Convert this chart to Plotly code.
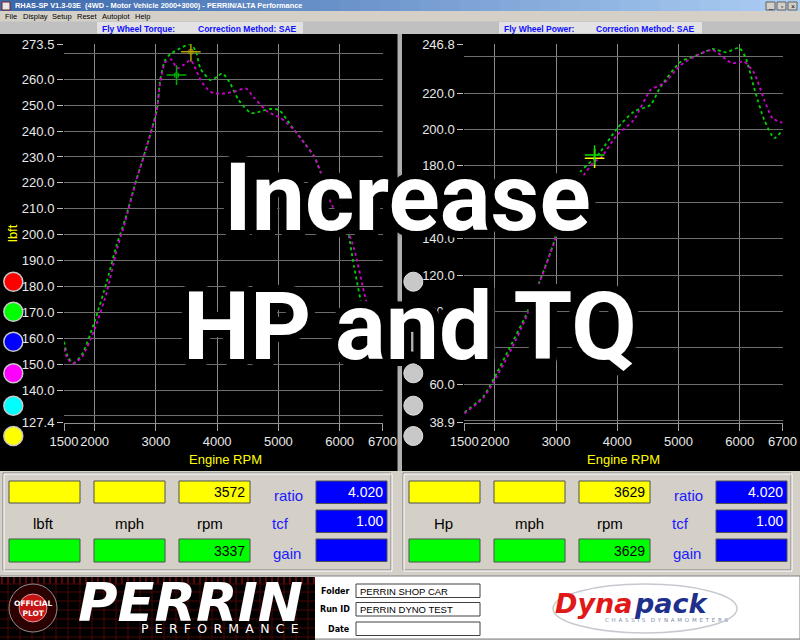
import math
import plotly.graph_objects as go

# ---------------- data ----------------
tq_rpm_green = [1500, 1560, 1650, 1800, 2000, 2200, 2360, 2500, 2664, 2800, 2900, 3016, 3070, 3150, 3240,
                3400, 3560, 3650, 3730, 3893, 4000, 4085, 4200, 4350, 4550, 4700, 4850, 5013, 5150, 5260,
                5420, 5587, 5697, 5800, 5992, 6102, 6238, 6402, 6566, 6700]
tq_green = [158.7, 153.0, 150.3, 154.0, 166.5, 182.0, 196.0, 206.0, 219.8, 230.1, 238.0, 248.1, 259.7, 267.4, 269.8,
            272.0, 273.5, 271.0, 264.0, 259.7, 261.0, 262.3, 259.0, 252.0, 247.0, 247.5, 248.5, 248.1, 244.0, 240.4,
            235.5, 230.1, 223.7, 220.0, 214.6, 205.9, 187.4, 168.3, 156.1, 156.5]

tq_rpm_magenta = [1500, 1560, 1650, 1800, 2000, 2200, 2360, 2500, 2664, 2800, 2900, 3016, 3070, 3150, 3250,
                  3347, 3450, 3565, 3650, 3730, 3850, 3948, 4100, 4275, 4467, 4600, 4823, 5041, 5260, 5420,
                  5587, 5697, 5874, 6074, 6238, 6402, 6539, 6700]
tq_magenta = [156.2, 152.0, 150.3, 153.0, 163.5, 178.0, 194.0, 205.0, 219.8, 230.1, 238.0, 248.1, 258.5, 266.5, 267.7,
              264.2, 265.5, 267.4, 264.0, 259.7, 256.0, 254.6, 254.5, 255.2, 256.5, 253.0, 247.5, 245.0, 240.4, 235.5,
              230.1, 223.7, 211.4, 205.1, 194.4, 177.4, 165.5, 159.6]

hp_rpm_green = [1500, 1811, 2000, 2249, 2495, 2741, 2959, 3100, 3250, 3397, 3629, 3725, 3998, 4270, 4544,
                4708, 5036, 5310, 5556, 5774, 5992, 6102, 6238, 6402, 6566, 6700]
hp_green = [44.6, 53.2, 64.2, 80.6, 97.1, 117.3, 137.5, 155.0, 168.0, 176.8, 184.2, 187.8, 200.6, 209.8, 213.5,
            223.5, 237.2, 240.9, 244.2, 242.4, 244.9, 239.1, 222.6, 205.2, 195.2, 199.7]

hp_rpm_magenta = [1500, 1811, 2000, 2249, 2495, 2741, 2959, 3100, 3250, 3451, 3629, 3725, 3998, 4270, 4544,
                  4762, 5036, 5310, 5556, 5874, 6074, 6238, 6402, 6539, 6700]
hp_magenta = [44.0, 52.5, 62.5, 78.0, 95.5, 117.0, 137.0, 152.5, 165.5, 175.0, 182.5, 184.2, 197.0, 205.2, 221.7,
              225.4, 235.4, 240.9, 243.7, 236.4, 237.2, 230.9, 216.2, 206.1, 203.7]

rpm_ticks = [1500, 2000, 3000, 4000, 5000, 6000, 6700]
rpm_grid = [2000, 3000, 4000, 5000, 6000, 6700]
tq_ticks = [127.4, 140, 150, 160, 170, 180, 190, 200, 210, 220, 230, 240, 250, 260, 273.5]
tq_grid = [130, 140, 150, 160, 170, 180, 190, 200, 210, 220, 230, 240, 250, 260, 270]
hp_ticks = [38.9, 60, 80, 100, 120, 140, 160, 180, 200, 220, 246.8]
hp_grid = [40, 60, 80, 100, 120, 140, 160, 180, 200, 220, 240]

tq_cursor_rpm = [3572, 3337]
tq_cursor_val = [270.6, 261.6]
tq_cursor_col = ["#b0a000", "#00b000"]
hp_cursor_rpm = [3629, 3629]
hp_cursor_val = [184.2, 186.0]
hp_cursor_col = ["#ffff00", "#00e000"]

panel_units = ["lbft", "Hp"]
panel_top_rpm = ["3572", "3629"]
panel_bot_rpm = ["3337", "3629"]
ratio_vals = ["4.020", "4.020"]
tcf_vals = ["1.00", "1.00"]

menu_items = ["File", "Display", "Setup", "Reset", "Autoplot", "Help"]
menu_x = [3, 21, 50, 75, 100, 133]

# ---------------- helpers ----------------
W, H = 800, 640
FONT = "Liberation Sans, Arial, sans-serif"


def px(x):
    return x / W


def py(y):
    return 1 - y / H


shapes = []
annotations = []


def rect(x0, y0, x1, y1, fill=None, line=None, lw=1, layer="above"):
    shapes.append(dict(type="rect", xref="paper", yref="paper",
                       x0=px(x0), x1=px(x1), y0=py(y1), y1=py(y0),
                       fillcolor=fill if fill else "rgba(0,0,0,0)",
                       line=dict(color=line if line else "rgba(0,0,0,0)", width=lw if line else 0),
                       layer=layer))


def circle(cx, cy, r, fill, line=None, lw=1):
    shapes.append(dict(type="circle", xref="paper", yref="paper",
                       x0=px(cx - r), x1=px(cx + r), y0=py(cy + r), y1=py(cy - r),
                       fillcolor=fill, line=dict(color=line if line else "rgba(0,0,0,0)",
                                                 width=lw if line else 0), layer="above"))


def path(segs, color, lw=1):
    d = " ".join(f"M{px(a)},{py(b)} L{px(c)},{py(e)}" for a, b, c, e in segs)
    shapes.append(dict(type="path", xref="paper", yref="paper", path=d,
                       line=dict(color=color, width=lw), layer="above"))


def text(x, y, s, size=12, color="black", xanchor="center", yanchor="middle", family=FONT,
         weight="normal", style="normal", angle=0, shadow=None):
    f = dict(size=size, color=color, family=family, weight=weight, style=style)
    if shadow:
        f["shadow"] = shadow
    annotations.append(dict(x=px(x), y=py(y), xref="paper", yref="paper", text=s, showarrow=False,
                            xanchor=xanchor, yanchor=yanchor, font=f, textangle=angle))


# ---------------- window chrome ----------------
rect(0, 0, 800, 640, fill="#d4d0c8", layer="below")
n = 40
c0, c1 = (60, 104, 172), (172, 206, 244)
for i in range(n):
    t = i / (n - 1)
    col = "rgb(%d,%d,%d)" % tuple(int(c0[k] + (c1[k] - c0[k]) * t) for k in range(3))
    rect(i * W / n, 0, (i + 1) * W / n + 0.5, 11, fill=col, layer="below")
rect(2, 2, 10, 10, fill="#e8e8e8", line="#7a2020")
text(13, 5.8, "RHAS-SP V1.3-03E  (4WD - Motor Vehicle 2000+3000) - PERRIN/ALTA Performance",
     size=7.4, color="white", xanchor="left", weight="bold")
for bx, sym in [(766, "_"), (777, "▫"), (788, "×")]:
    rect(bx, 2, bx + 9, 10, fill="#d4d0c8", line="#606060")
    text(bx + 4.5, 6, sym, size=7, color="black")

rect(0, 11, 800, 21.5, fill="#d4d0c8", layer="below")
for s, x in zip(menu_items, menu_x):
    text(x, 16.8, s, size=7.5, color="black", xanchor="left")

rect(0, 21.5, 800, 34, fill="#c0c0c0", layer="below")
rect(97, 22, 303, 33.5, fill="#e2e2e2", layer="below")
rect(499, 22, 702, 33.5, fill="#e2e2e2", layer="below")
text(100, 28.5, "Fly Wheel Torque:", size=8.5, color="#1010ff", xanchor="left", weight="bold")
text(196, 28.5, "Correction Method: SAE", size=8.5, color="#1010ff", xanchor="left", weight="bold")
text(502, 28.5, "Fly Wheel Power:", size=8.5, color="#1010ff", xanchor="left", weight="bold")
text(594, 28.5, "Correction Method: SAE", size=8.5, color="#1010ff", xanchor="left", weight="bold")

rect(0, 34, 398, 471, fill="black", layer="below")
rect(402, 34, 800, 471, fill="black", layer="below")
rect(397.5, 34, 402, 471, fill="#b0b0b0", layer="below")

for cy, col in zip([281.7, 311.7, 341.7, 373.3, 405.7, 436.0],
                   ["#ff0000", "#00ff00", "#0000ff", "#ff00ff", "#00ffff", "#ffff00"]):
    circle(13.3, cy, 9.5, col, line="#c8c8c8", lw=1.5)
for cy in [281.7, 311.7, 341.7, 373.3, 405.7, 436.0]:
    circle(413.3, cy, 9.5, "#c8c8c8", line="#e0e0e0", lw=1)

text(13, 233, "lbft", size=13, color="#ffff00", angle=-90)
text(226, 459, "Engine RPM", size=13, color="#ffff00")
text(623, 459, "Engine RPM", size=13, color="#ffff00")

# ---------------- bottom panels ----------------
for k in range(2):
    ox = 400 * k
    rect(ox + 3, 473, ox + 391, 570, line="#808080")
    rect(ox + 4, 474, ox + 392, 571, line="#ffffff")
    for bx in [9, 94, 179]:
        rect(ox + bx, 481, ox + bx + 71, 503, fill="#ffff00", line="#505050")
        rect(ox + bx, 539, ox + bx + 71, 562, fill="#00ff00", line="#505050")
    for by in [481, 510, 539]:
        rect(ox + 316, by, ox + 387, by + 22.5, fill="#0000ff", line="#505050")
    text(ox + 247, 492, panel_top_rpm[k], size=14, color="black", xanchor="right")
    text(ox + 247, 550.5, panel_bot_rpm[k], size=14, color="black", xanchor="right")
    text(ox + 385, 492, ratio_vals[k], size=14, color="white", xanchor="right")
    text(ox + 385, 521, tcf_vals[k], size=14, color="white", xanchor="right")
    text(ox + 43, 523, panel_units[k], size=15, color="black")
    text(ox + 129, 523, "mph", size=15, color="black")
    text(ox + 210, 523, "rpm", size=15, color="black")
    text(ox + 288, 495, "ratio", size=15, color="#1a1aff")
    text(ox + 280, 523, "tcf", size=15, color="#1a1aff")
    text(ox + 287, 553, "gain", size=15, color="#1a1aff")

# ---------------- banner ----------------
rect(0, 576, 800, 639, fill="white", line="#808080")
rect(0, 577, 315, 640, fill="black")
segs = []
for gx in range(2, 315, 6):
    segs.append((gx, 577, gx, 584))
path(segs, "#b01010", 1)
segs = [(0, 584, 315, 584)]
for gy in range(592, 640, 9):
    segs.append((0, gy, 315, gy))
for gx in range(8, 315, 12):
    segs.append((gx, 584, gx, 640))
path(segs, "#4a0606", 1)
circle(33, 608, 24, "#2a0000", line="#909090", lw=1)
circle(33, 608, 14, "#c41414", line="#ffffff", lw=0.6)
text(33, 608, "OFFICIAL<br>PLOT", size=7.5, color="white", weight="bold", family="DejaVu Sans")
text(190, 602, "PERRIN", size=54, color="white", weight="bold", style="italic", family="DejaVu Sans")
text(220, 628.5, "\u2002".join("PERFORMANCE"), size=12.5, color="white", family="DejaVu Sans")

for lab, yy, val in [("Folder", 591, "PERRIN SHOP CAR"), ("Run ID", 609.5, "PERRIN DYNO TEST"), ("Date", 629, "")]:
    text(352, yy, lab, size=8, color="black", xanchor="right", weight="bold", family="DejaVu Sans")
    rect(356, yy - 7, 480, yy + 6.5, fill="white", line="#404040")
    if val:
        text(358, yy, val, size=9.5, color="black", xanchor="left")

shapes.append(dict(type="circle", xref="paper", yref="paper", x0=px(553), x1=px(737), y0=py(633), y1=py(584),
                   line=dict(color="#c8c8d0", width=1.5), fillcolor="rgba(0,0,0,0)", layer="above"))
text(634, 603, "Dyna", size=27, color="#e01818", xanchor="right", weight="bold", style="italic", family="DejaVu Sans")
text(632, 603, "pack", size=27, color="#1e2f8c", xanchor="left", weight="bold", style="italic", family="DejaVu Sans")
text(667, 619.5, "\u2002".join("CHASSIS") + "\u2003" + "\u2002".join("DYNAMOMETERS"), size=5.5,
     color="#7a88a8", family="DejaVu Sans")

# ---------------- overlay text ----------------
offs = []
for i in range(24):
    a = 2 * math.pi * i / 24
    offs.append(f"{7 * math.cos(a):.1f}px {7 * math.sin(a):.1f}px 0 #000")
halo = ", ".join(offs) + ", 0 0 10px #000, 0 0 10px #000"

text(407, 198, "Increase", size=95, color="white", family="Roboto", weight="bold", shadow=halo)
text(410, 326, "HP and TQ", size=95, color="white", family="Roboto", weight="bold", shadow=halo)

# ---------------- figure ----------------
fig = go.Figure()

line_g = dict(color="#00d000", width=1.8, dash="dot", shape="spline", smoothing=0.6)
line_m = dict(color="#d000d0", width=1.8, dash="dot", shape="spline", smoothing=0.6)
fig.add_trace(go.Scatter(x=tq_rpm_green, y=tq_green, mode="lines", line=line_g, xaxis="x", yaxis="y"))
fig.add_trace(go.Scatter(x=tq_rpm_magenta, y=tq_magenta, mode="lines", line=line_m, xaxis="x", yaxis="y"))
fig.add_trace(go.Scatter(x=hp_rpm_green, y=hp_green, mode="lines", line=line_g, xaxis="x2", yaxis="y2"))
fig.add_trace(go.Scatter(x=hp_rpm_magenta, y=hp_magenta, mode="lines", line=line_m, xaxis="x2", yaxis="y2"))

fig.add_trace(go.Scatter(x=tq_cursor_rpm, y=tq_cursor_val, mode="markers", xaxis="x", yaxis="y",
                         marker=dict(symbol="cross-thin-open", size=14, color=tq_cursor_col,
                                     line=dict(color=tq_cursor_col, width=1.5))))
fig.add_trace(go.Scatter(x=tq_cursor_rpm, y=tq_cursor_val, mode="markers", xaxis="x", yaxis="y",
                         marker=dict(symbol="square-open", size=4, color=tq_cursor_col,
                                     line=dict(color=tq_cursor_col, width=1))))
fig.add_trace(go.Scatter(x=hp_cursor_rpm, y=hp_cursor_val, mode="markers", xaxis="x2", yaxis="y2",
                         marker=dict(symbol="cross-thin-open", size=14, color=hp_cursor_col,
                                     line=dict(color=hp_cursor_col, width=1.5))))

ydom = [py(422.7), py(44.3)]
tickfont = dict(family=FONT, size=13, color="#e8e8e8")


def xaxis_cfg(x0, x1, anchor):
    return dict(domain=[px(x0), px(x1)], range=[1500, 6700], anchor=anchor,
                tickmode="array", tickvals=rpm_ticks, ticktext=[str(v) for v in rpm_ticks],
                tickangle=0, ticks="outside", ticklen=7, tickcolor="#a0a0a0", tickfont=tickfont,
                showgrid=False, zeroline=False, showline=True, linecolor="#909090", linewidth=1,
                minor=dict(tickmode="array", tickvals=rpm_grid, showgrid=True, gridcolor="#8a8a8a",
                           gridwidth=1, ticks=""),
                fixedrange=True, automargin=False)


def yaxis_cfg(rng, ticks, grid, anchor):
    return dict(domain=ydom, range=rng, anchor=anchor,
                tickmode="array", tickvals=ticks, ticktext=[f"{v:.1f}" for v in ticks],
                ticks="outside", ticklen=6, tickcolor="#c0c0c0", tickfont=tickfont,
                showgrid=False, zeroline=False, showline=False,
                minor=dict(tickmode="array", tickvals=grid, showgrid=True, gridcolor="#6e6e6e",
                           gridwidth=1, ticks=""),
                fixedrange=True, automargin=False)


fig.update_layout(
    width=W, height=H, autosize=False,
    margin=dict(l=0, r=0, t=0, b=0, pad=0, autoexpand=False),
    paper_bgcolor="#d4d0c8", plot_bgcolor="rgba(0,0,0,0)",
    showlegend=False, hovermode=False,
    xaxis=xaxis_cfg(64, 382.5, "y"),
    yaxis=yaxis_cfg([127.4, 273.5], tq_ticks, tq_grid, "x"),
    xaxis2=xaxis_cfg(464.3, 782.5, "y2"),
    yaxis2=yaxis_cfg([38.9, 246.8], hp_ticks, hp_grid, "x2"),
    shapes=shapes, annotations=annotations,
)

fig.write_html("out.html", config={"displayModeBar": False, "staticPlot": True},
               post_script="document.body.style.margin='0';document.body.style.padding='0';"
                           "document.documentElement.style.overflow='hidden';")
